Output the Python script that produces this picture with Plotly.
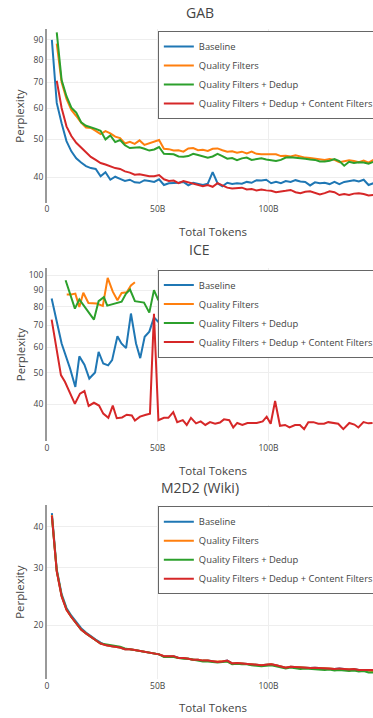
#!/usr/bin/env python
"""
Perplexity vs total tokens for three evaluation sets
"""

import plotly.graph_objects as go
from plotly.subplots import make_subplots

SERIES = ['Baseline', 'Quality Filters', 'Quality Filters + Dedup',
          'Quality Filters + Dedup + Content Filters']
COLORS = ['#1f77b4', '#ff7f0e', '#2ca02c', '#d62728']
PANELS = ['GAB', 'ICE', 'M2D2 (Wiki)']

# token checkpoints, in billions
X_GAB = [2.2, 4.4, 6.6, 8.8, 11.0, 13.2, 15.4, 17.6, 19.8, 22.0,
         24.2, 26.4, 28.6, 30.8, 33.0, 35.2, 37.4, 39.6, 41.8, 44.0,
         46.2, 48.4, 50.6, 52.8, 55.0, 57.2, 59.4, 61.6, 63.8, 66.0,
         68.2, 70.4, 72.6, 74.8, 77.0, 79.2, 81.4, 83.6, 85.8, 88.0,
         90.2, 92.4, 94.6, 96.8, 99.0, 101.2, 103.4, 105.6, 107.8, 110.0,
         112.2, 114.4, 116.6, 118.8, 121.0, 123.2, 125.4, 127.6, 129.8, 132.0,
         134.2, 136.4, 138.6, 140.8, 143.0, 145.2, 147.4]
X_GAB_LATE = X_GAB[1:]
X_M2D2 = X_GAB

# GAB
GAB_BASE = [90, 62, 55, 49.5, 46.6, 44.7, 43.6, 42.7, 42.2, 42.0,
            40.2, 41.2, 39.4, 40.1, 39.6, 39.1, 39.4, 38.8, 38.7, 39.3,
            39.1, 38.9, 39.5, 38.2, 38.6, 38.6, 38.7, 38.9, 38.1, 38.7,
            38.4, 38.2, 38.5, 41.2, 38.6, 37.9, 38.7, 38.4, 38.6, 38.5,
            38.9, 38.7, 39.3, 39.2, 39.4, 38.6, 38.9, 38.6, 39.1, 38.9,
            39.3, 39.0, 38.9, 38.1, 38.8, 38.6, 38.7, 38.4, 38.9, 38.4,
            38.9, 39.1, 39.3, 39.0, 39.4, 38.2, 38.6]
GAB_QF = [88, 70, 63.5, 59.5, 57.4, 55.2, 53.6, 53.5, 52.6,
          51.6, 52.5, 51.8, 50.8, 50.4, 48.8, 49.3, 48.7, 49.7, 48.4,
          48.9, 49.4, 49.8, 47.3, 47.2, 46.8, 46.9, 46.5, 47.4, 47.5,
          46.9, 47.0, 46.7, 47.3, 47.4, 46.9, 46.5, 46.6, 46.2, 46.5,
          46.0, 46.5, 45.9, 45.8, 45.9, 45.8, 45.8, 45.3, 45.4, 45.2,
          45.5, 45.1, 44.9, 44.8, 44.6, 44.5, 44.3, 44.5, 44.3, 43.7,
          44.0, 44.2, 44.0, 43.7, 44.1, 43.6, 44.3]
GAB_QF_DEDUP = [94, 71, 64.5, 60.3, 58.6, 55.3, 54.2, 53.8, 53.2,
                52.6, 50.0, 51.2, 49.2, 49.8, 48.3, 47.5, 47.6, 47.7, 47.3,
                46.8, 47.1, 47.8, 45.9, 45.8, 45.8, 45.2, 45.1, 45.3, 45.9,
                45.6, 45.2, 44.9, 45.2, 45.9, 45.3, 44.6, 44.8, 44.2, 44.7,
                44.9, 44.3, 44.5, 44.7, 44.4, 44.2, 44.0, 44.3, 44.9, 45.0,
                44.9, 44.8, 44.6, 44.4, 44.3, 43.9, 43.9, 44.1, 44.5, 44.0,
                42.8, 43.8, 43.5, 43.7, 43.6, 43.3, 43.8]
GAB_QF_DEDUP_CF = [70.7, 60.2, 54, 51, 49, 47.6, 46.2, 45.1, 44.3,
                   43.5, 43.1, 42.6, 42.2, 42.0, 41.4, 41.1, 40.6, 40.7, 40.5,
                   40.2, 40.2, 40.5, 39.5, 39.1, 39.2, 38.6, 39.1, 38.8, 38.4,
                   38.2, 37.9, 38.2, 37.8, 38.6, 38.1, 37.6, 37.4, 37.5, 37.6,
                   37.2, 37.3, 37.0, 37.2, 37.0, 36.9, 36.6, 36.7, 36.9, 37.1,
                   36.6, 36.4, 36.7, 36.8, 36.5, 36.1, 36.4, 36.8, 36.6, 36.0,
                   36.2, 36.0, 36.3, 36.4, 36.2, 35.9, 36.0]

# ICE
ICE_BASE_X = [2.1, 6.6, 10.4, 12.8, 14.6, 16.9, 19.1, 21.7, 23.3, 25.4, 27.6, 29.4,
              31.8, 33.6, 35.7, 37.9, 40.2, 42.1, 44.1, 46.2, 48.3, 50.3, 52.5]
ICE_BASE = [84.8, 61.6, 51.6, 45.2, 56.2, 53, 48, 50.1, 58, 53.4, 52.7, 54.7,
            64.8, 61.6, 59.6, 76.2, 61.6, 55.5, 64.6, 67, 74.1, 71.8, 70]
ICE_QF_X = [8.9, 10.9, 12.8, 14.6, 16.4, 18.7, 22.4, 25.2, 27.4, 29.7, 31.8, 33.7,
            36.0, 37.9, 39.7]
ICE_QF = [87.2, 87.2, 87.8, 79.9, 88.3, 82.1, 81.8, 80.5, 98.2, 89, 83.7, 88.2,
          88.6, 93, 95.2]
ICE_QF_DEDUP_X = [8.4, 10.4, 12.6, 14.6, 17.2, 21.2, 23.3, 25.7, 27.2, 33.7, 35.7,
                  37.5, 39.7, 43.8, 46.2, 48.3, 50.3]
ICE_QF_DEDUP = [96.6, 87.8, 78.9, 84.3, 79.9, 73, 83.2, 85.6, 80.6, 82.9, 87.8,
                90.4, 83.2, 82.4, 76.7, 90, 83.7]
ICE_QF_DEDUP_CF_X = [2.1, 6.3, 8.1, 12.6, 14.9, 16.9, 18.8, 21.2, 23.5, 25.4,
                     27.7, 29.7, 31.5, 33.9, 36.0, 38.3, 39.7, 42.0, 44.7, 46.5,
                     48.3, 50.3, 52.8, 54.8, 57.0, 58.8, 61.3, 63.1, 65.0, 67.3,
                     69.4, 71.5, 73.6, 75.9, 78.1, 79.9, 82.3, 84.1, 85.9, 88.2,
                     90.5, 92.6, 94.7, 97.4, 99.2, 101.0, 103.0, 105.2, 107.5, 109.5,
                     112.0, 114.2, 116.1, 118.0, 120.3, 122.5, 125.1, 127.0, 129.2, 131.5,
                     133.8, 136.5, 138.8, 140.6, 142.9, 145.1, 147.0]
ICE_QF_DEDUP_CF = [73, 49.2, 46.9, 40.1, 43.1, 43.9, 39.5, 40.4, 39.6, 37.4,
                   36.3, 39.6, 36.2, 36.4, 37.1, 36.9, 35.6, 36.6, 37.1, 37.4,
                   76, 35.7, 36.3, 36.3, 37.8, 35.2, 35.7, 34.5, 36.3, 34.9,
                   35.4, 34.5, 35.2, 34.8, 35.1, 35.9, 35.7, 33.9, 35.0, 34.5,
                   35.0, 35.0, 35.0, 35.4, 36.6, 34.8, 40.9, 34.3, 34.5, 33.9,
                   34.5, 34.5, 33.5, 35.2, 35.2, 34.8, 34.8, 35.2, 35.0, 34.8,
                   33.5, 35.0, 34.6, 33.9, 35.2, 34.9, 35.0]

# M2D2 (Wiki)
M2D2_BASE = [44.0, 29.6, 24.9, 22.6, 21.4, 20.4, 19.6, 19.0, 18.5, 18.1,
             17.7, 17.4, 17.3, 17.2, 17.1, 16.9, 16.9, 16.8, 16.7, 16.6,
             16.5, 16.4, 16.3, 16.1, 16.1, 16.1, 15.9, 15.9, 15.8, 15.7,
             15.7, 15.6, 15.6, 15.5, 15.45, 15.5, 15.6, 15.3, 15.35, 15.3,
             15.25, 15.2, 15.15, 15.1, 15.15, 15.2, 15.1, 14.95, 14.85, 14.95,
             14.9, 14.85, 14.85, 14.8, 14.85, 14.8, 14.75, 14.75, 14.7, 14.75,
             14.7, 14.65, 14.7, 14.6, 14.6, 14.6, 14.6]
M2D2_QF = [43.4, 29.3, 24.6, 22.3, 21.2, 20.2, 19.4, 18.9, 18.4, 18.0,
           17.6, 17.4, 17.3, 17.2, 17.1, 16.9, 16.9, 16.8, 16.7, 16.6,
           16.5, 16.4, 16.3, 16.1, 16.1, 16.05, 15.9, 15.9, 15.8, 15.7,
           15.7, 15.6, 15.6, 15.5, 15.5, 15.5, 15.55, 15.3, 15.35, 15.3,
           15.25, 15.2, 15.15, 15.1, 15.15, 15.2, 15.1, 14.95, 14.85, 14.95,
           14.9, 14.85, 14.85, 14.8, 14.8, 14.8, 14.75, 14.75, 14.7, 14.7,
           14.7, 14.65, 14.65, 14.6, 14.55, 14.55, 14.5]
M2D2_QF_DEDUP = [43.0, 29.4, 24.6, 22.4, 21.2, 20.2, 19.4, 18.9, 18.4, 18.0,
                 17.6, 17.5, 17.4, 17.3, 17.2, 17.0, 16.9, 16.8, 16.7, 16.6,
                 16.5, 16.4, 16.3, 16.0, 16.0, 16.0, 15.9, 15.8, 15.8, 15.7,
                 15.6, 15.5, 15.5, 15.45, 15.4, 15.45, 15.5, 15.2, 15.25, 15.2,
                 15.2, 15.1, 15.05, 15.0, 15.05, 15.1, 15.0, 14.85, 14.75, 14.85,
                 14.8, 14.7, 14.75, 14.7, 14.7, 14.65, 14.6, 14.65, 14.55, 14.6,
                 14.55, 14.5, 14.55, 14.45, 14.5, 14.35, 14.35]
M2D2_QF_DEDUP_CF = [43.2, 29.2, 24.5, 22.3, 21.2, 20.2, 19.4, 18.9, 18.4, 18.0,
                    17.6, 17.4, 17.3, 17.2, 17.1, 16.9, 16.9, 16.8, 16.7, 16.6,
                    16.5, 16.4, 16.3, 16.1, 16.1, 16.1, 15.9, 15.9, 15.8, 15.7,
                    15.7, 15.6, 15.6, 15.5, 15.45, 15.5, 15.6, 15.3, 15.35, 15.3,
                    15.25, 15.2, 15.15, 15.1, 15.15, 15.2, 15.1, 14.95, 14.85, 14.95,
                    14.9, 14.85, 14.85, 14.8, 14.85, 14.8, 14.75, 14.75, 14.7, 14.75,
                    14.7, 14.65, 14.7, 14.6, 14.6, 14.6, 14.6]

Y_TICKS = [[40, 50, 60, 70, 80, 90],
           [40, 50, 60, 70, 80, 90, 100],
           [20, 30, 40]]
Y_RANGES = [[1.537, 1.982], [1.488, 2.024], [1.137, 1.669]]
X_TICKS = [0, 50, 100]
X_TICK_TEXT = ['0', '50B', '100B']

FONT = 'Open Sans, verdana, arial, sans-serif'
TEXT = '#444'

PANEL_DATA = [
    ([X_GAB, X_GAB_LATE, X_GAB_LATE, X_GAB_LATE],
     [GAB_BASE, GAB_QF, GAB_QF_DEDUP, GAB_QF_DEDUP_CF]),
    ([ICE_BASE_X, ICE_QF_X, ICE_QF_DEDUP_X, ICE_QF_DEDUP_CF_X],
     [ICE_BASE, ICE_QF, ICE_QF_DEDUP, ICE_QF_DEDUP_CF]),
    ([X_M2D2, X_M2D2, X_M2D2, X_M2D2],
     [M2D2_BASE, M2D2_QF, M2D2_QF_DEDUP, M2D2_QF_DEDUP_CF]),
]

fig = make_subplots(rows=3, cols=1)

legends = ['legend', 'legend2', 'legend3']
for row, (xs, ys) in enumerate(PANEL_DATA, start=1):
    for name, color, x, y in zip(SERIES, COLORS, xs, ys):
        fig.add_trace(go.Scatter(
            x=[v * 1e9 for v in x], y=y, mode='lines', name=name,
            line=dict(color=color, width=2), legend=legends[row - 1]
        ), row=row, col=1)

# pixel layout: plot area x 47 -> 373, y 29 -> 679
domains = [[0.733, 1.0], [0.366, 0.633], [0.0, 0.268]]
for i in range(3):
    fig.update_xaxes(
        row=i + 1, col=1, domain=[0, 1], range=[0, 147.2e9],
        tickvals=[v * 1e9 for v in X_TICKS], ticktext=X_TICK_TEXT,
        showgrid=True, gridcolor='#eee', zeroline=False, showline=False,
        tickfont=dict(size=8.5, color=TEXT)
    )
    fig.update_yaxes(
        row=i + 1, col=1, domain=domains[i], type='log', range=Y_RANGES[i],
        tickvals=Y_TICKS[i], showgrid=True, gridcolor='#eee', zeroline=False,
        showline=True, linecolor='#999', linewidth=2,
        tickfont=dict(size=8.5, color=TEXT)
    )

legend_style = dict(x=0.34, xanchor='left', yanchor='top', bgcolor='white',
                    bordercolor='#666', borderwidth=1,
                    font=dict(size=9.4, color=TEXT))

annotations = []
title_y = [1.025, 0.66, 0.294]
xtitle_y = [0.688, 0.3215, -0.0435]
for i, panel in enumerate(PANELS):
    annotations.append(dict(text=panel, x=0.469, y=title_y[i], xref='paper',
                            yref='paper', showarrow=False, yanchor='middle',
                            font=dict(size=14, color=TEXT)))
    annotations.append(dict(text='Total Tokens', x=0.509, y=xtitle_y[i],
                            xref='paper', yref='paper', showarrow=False,
                            yanchor='middle', font=dict(size=11.5, color=TEXT)))
    annotations.append(dict(text='Perplexity', x=-0.083,
                            y=sum(domains[i]) / 2, xref='paper', yref='paper',
                            showarrow=False, textangle=-90, xanchor='center',
                            yanchor='middle', font=dict(size=11.5, color=TEXT)))

fig.update_layout(
    width=373, height=718,
    margin=dict(l=47, r=0, t=29, b=39, autoexpand=False),
    paper_bgcolor='white', plot_bgcolor='white',
    font=dict(family=FONT, color=TEXT),
    legend=dict(y=0.997, **legend_style),
    legend2=dict(y=0.630, **legend_style),
    legend3=dict(y=0.2657, **legend_style),
    annotations=annotations,
)

fig.write_html(
    "out.html",
    config={'displayModeBar': False},
    post_script="document.body.style.margin='0';"
                "document.body.style.overflow='hidden';"
)
